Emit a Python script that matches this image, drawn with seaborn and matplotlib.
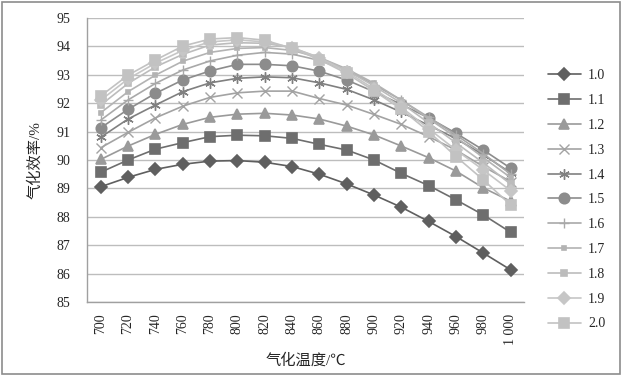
import matplotlib
matplotlib.use("Agg")
import matplotlib.pyplot as plt
import seaborn as sns
import pandas as pd
from matplotlib.lines import Line2D
from matplotlib.patches import Rectangle

# gasification temperature (category axis)
temps = [700, 720, 740, 760, 780, 800, 820, 840, 860, 880, 900, 920, 940, 960, 980, 1000]
temp_labels = ["700", "720", "740", "760", "780", "800", "820", "840", "860", "880",
               "900", "920", "940", "960", "980", "1 000"]

ratios = ["1.0", "1.1", "1.2", "1.3", "1.4", "1.5", "1.6", "1.7", "1.8", "1.9", "2.0"]

eff_10 = [89.06, 89.39, 89.67, 89.85, 89.96, 89.98, 89.92, 89.77, 89.50, 89.16, 88.77, 88.34, 87.84, 87.31, 86.73, 86.14]
eff_11 = [89.57, 90.00, 90.38, 90.61, 90.82, 90.87, 90.85, 90.76, 90.55, 90.35, 90.00, 89.53, 89.10, 88.60, 88.07, 87.46]
eff_12 = [90.02, 90.49, 90.90, 91.25, 91.50, 91.61, 91.64, 91.58, 91.44, 91.19, 90.88, 90.49, 90.08, 89.61, 89.02, 88.55]
eff_13 = [90.43, 90.97, 91.48, 91.89, 92.20, 92.36, 92.42, 92.42, 92.16, 91.93, 91.60, 91.25, 90.82, 90.35, 89.77, 89.24]
eff_14 = [90.80, 91.44, 91.93, 92.40, 92.71, 92.87, 92.92, 92.89, 92.71, 92.48, 92.11, 91.68, 91.22, 90.75, 90.18, 89.55]
eff_15 = [91.13, 91.78, 92.34, 92.81, 93.13, 93.36, 93.36, 93.31, 93.12, 92.81, 92.40, 91.95, 91.48, 90.94, 90.35, 89.71]
eff_16 = [91.40, 92.11, 92.69, 93.16, 93.48, 93.68, 93.78, 93.72, 93.50, 93.15, 92.65, 92.10, 91.50, 90.88, 90.22, 89.50]
eff_17 = [91.66, 92.40, 92.98, 93.47, 93.78, 93.92, 93.95, 93.85, 93.60, 93.20, 92.70, 92.10, 91.45, 90.80, 90.08, 89.38]
eff_18 = [91.93, 92.69, 93.27, 93.71, 94.04, 94.12, 94.10, 93.95, 93.60, 93.15, 92.60, 92.00, 91.30, 90.60, 89.90, 89.15]
eff_19 = [92.10, 92.85, 93.40, 93.85, 94.15, 94.22, 94.15, 93.95, 93.58, 93.10, 92.50, 91.85, 91.10, 90.35, 89.65, 88.92]
eff_20 = [92.25, 92.98, 93.51, 94.00, 94.25, 94.30, 94.21, 93.92, 93.53, 93.04, 92.43, 91.78, 91.00, 90.12, 89.30, 88.42]

series = [eff_10, eff_11, eff_12, eff_13, eff_14, eff_15, eff_16, eff_17, eff_18, eff_19, eff_20]

rows = []
for r, vals in zip(ratios, series):
    for lab, v in zip(temp_labels, vals):
        rows.append({"temp": lab, "eff": v, "ratio": r})
df = pd.DataFrame(rows)

colors = {"1.0": "#5f5f5f", "1.1": "#6e6e6e", "1.2": "#9a9a9a", "1.3": "#a3a3a3",
          "1.4": "#808080", "1.5": "#8c8c8c", "1.6": "#a9a9a9", "1.7": "#b3b3b3",
          "1.8": "#bcbcbc", "1.9": "#c6c6c6", "2.0": "#c2c2c2"}
markers = {"1.0": "D", "1.1": "s", "1.2": "^", "1.3": "x", "1.4": (6, 2, 0),
           "1.5": "o", "1.6": "+", "1.7": "s", "1.8": "s", "1.9": "D", "2.0": "s"}
msizes = {"1.0": 6, "1.1": 7.5, "1.2": 7.5, "1.3": 7.5, "1.4": 7.5, "1.5": 7.5,
          "1.6": 7, "1.7": 3, "1.8": 4, "1.9": 6, "2.0": 7.5}
mews = {"1.3": 1.0, "1.4": 1.0, "1.6": 1.0}

sns.set_style("white")
plt.rcParams["font.family"] = ["Liberation Serif", "Noto Sans CJK SC"]

fig = plt.figure(figsize=(6.22, 3.76), dpi=100)
ax = fig.add_axes([0.14, 0.196, 0.703, 0.757])

sns.lineplot(data=df, x="temp", y="eff", hue="ratio", hue_order=ratios,
             palette=colors, linewidth=1.2, legend=False, ax=ax)

handles = []
for line, r in zip(ax.lines, ratios):
    c = colors[r]
    mew = mews.get(r, 1.2)
    line.set_marker(markers[r])
    line.set_markeredgecolor(c)
    line.set_markerfacecolor(c)
    line.set_markersize(msizes[r])
    line.set_markeredgewidth(mew)
    handles.append(Line2D([], [], color=c, marker=markers[r], markersize=msizes[r],
                          markeredgecolor=c, markerfacecolor=c, markeredgewidth=mew,
                          linewidth=1.2))

ax.set_ylim(85, 95)
ax.set_yticks(range(85, 96))
ax.set_xlim(-0.5, len(temps) - 0.5)
ax.set_xticks(range(len(temps)))
ax.set_xticklabels(temp_labels, rotation=90)
ax.set_xticks([i - 0.5 for i in range(len(temps) + 1)], minor=True)
ax.tick_params(axis="x", which="major", length=0, labelsize=10, pad=8)
ax.tick_params(axis="x", which="minor", length=5, color="#a0a0a0", direction="out")
ax.tick_params(axis="y", length=0, labelsize=10, pad=12)
ax.yaxis.grid(True, color="#bdbdbd", linewidth=1)
ax.xaxis.grid(False)
for s in ["top", "right"]:
    ax.spines[s].set_visible(False)
for s in ["left", "bottom"]:
    ax.spines[s].set_color("#a0a0a0")
    ax.spines[s].set_linewidth(1)

ax.set_xlabel("气化温度/℃", fontsize=11, labelpad=6)
ax.set_ylabel("气化效率/%", fontsize=11, labelpad=10)

ax.legend(handles, ratios, loc="center left", bbox_to_anchor=(1.025, 0.36),
          frameon=False, fontsize=10, labelspacing=0.85, handlelength=2.4,
          handletextpad=0.5)

fig.patches.append(Rectangle((0.003, 0.004), 0.994, 0.992, transform=fig.transFigure,
                             fill=False, edgecolor="#8c8c8c", linewidth=1.2))

plt.savefig("out.png", dpi=100)
